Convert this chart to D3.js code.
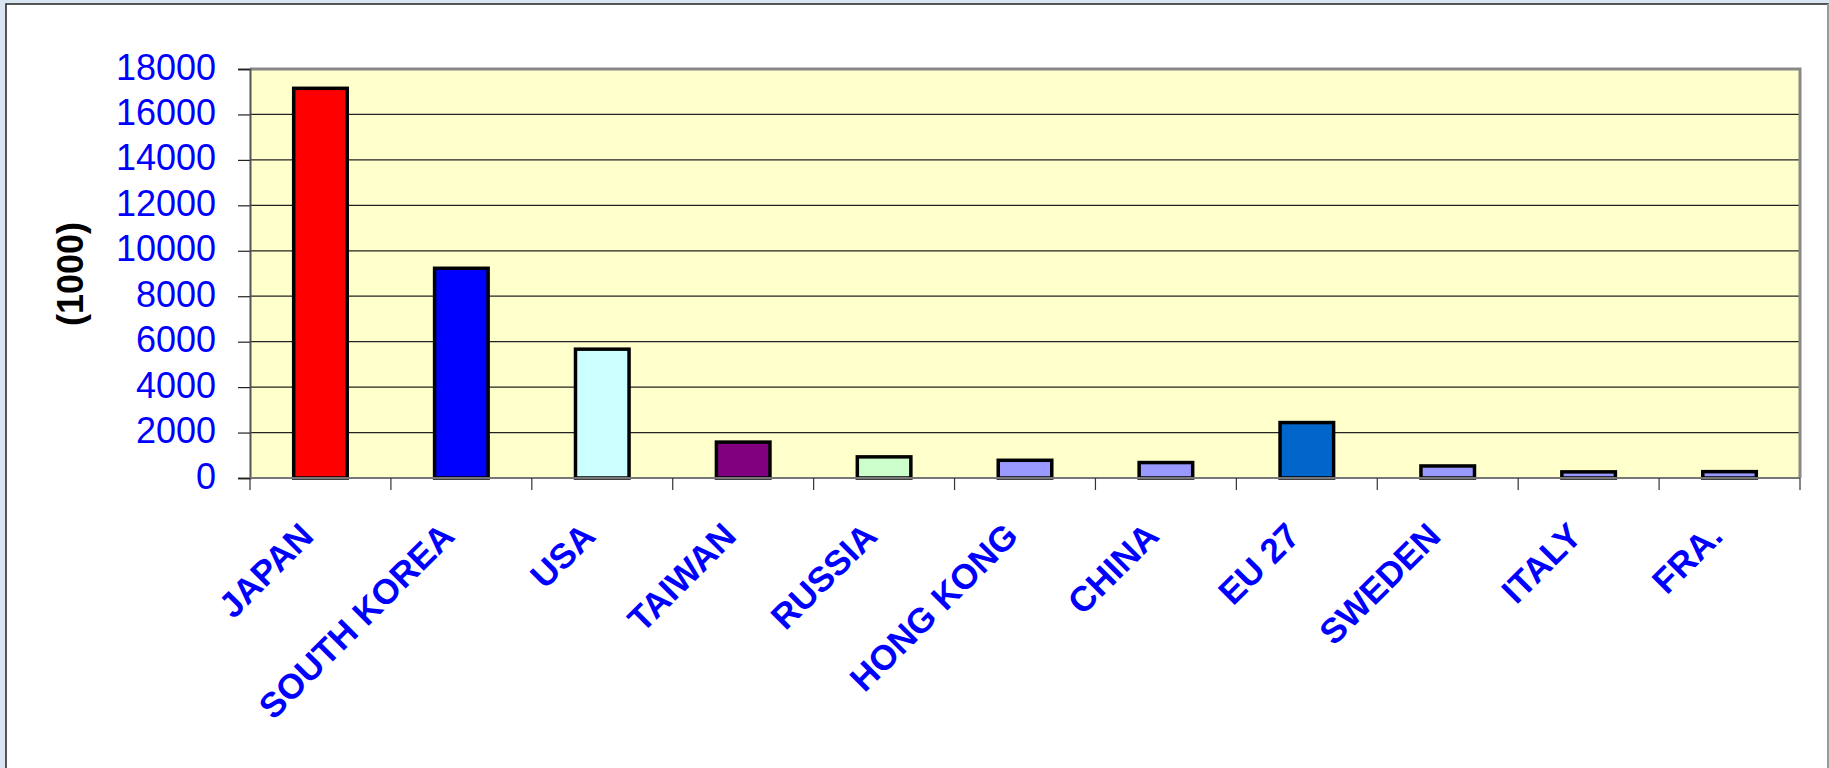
<!DOCTYPE html>
<html>
<head>
<meta charset="utf-8">
<script src="https://cdn.jsdelivr.net/npm/d3@7"></script>
<style>
  html, body { margin: 0; padding: 0; background: #d9e5f1; }
  svg { display: block; }
  text { font-family: "Liberation Sans", Arial, sans-serif; }
</style>
</head>
<body>
<div id="chart"></div>
<script>
// Chart data
var countries = ["JAPAN", "SOUTH KOREA", "USA", "TAIWAN", "RUSSIA", "HONG KONG", "CHINA", "EU 27", "SWEDEN", "ITALY", "FRA."];
var values = [17150, 9230, 5670, 1580, 930, 780, 680, 2440, 530, 270, 280];
var barColors = ["#ff0000", "#0000ff", "#ccffff", "#800080", "#ccffcc", "#9999ff", "#9999ff", "#0066cc", "#9999ff", "#9999ff", "#9999ff"];
var yTicks = [0, 2000, 4000, 6000, 8000, 10000, 12000, 14000, 16000, 18000];
var yTitle = "(1000)";

// SVG size
var svgWidth = 1829;
var svgHeight = 768;

// Plot area
var plot = { left: 250, right: 1800, top: 69, bottom: 478 };

var svg = d3.select("#chart")
  .append("svg")
  .attr("width", svgWidth)
  .attr("height", svgHeight);

// White chart frame
svg.append("rect")
  .attr("x", 6).attr("y", 4)
  .attr("width", svgWidth - 7).attr("height", svgHeight)
  .attr("fill", "#fff")
  .attr("stroke", "#222")
  .attr("stroke-width", 1.5);
svg.append("line")
  .attr("x1", svgWidth - 1).attr("x2", svgWidth - 1)
  .attr("y1", 4).attr("y2", svgHeight)
  .attr("stroke", "#999").attr("stroke-width", 2);

// Scales
var x = d3.scaleBand()
  .domain(countries)
  .range([plot.left, plot.right])
  .paddingInner(0.62)
  .paddingOuter(0.31);

var xBand = d3.scaleBand()
  .domain(countries)
  .range([plot.left, plot.right]);

var y = d3.scaleLinear()
  .domain([0, 18000])
  .range([plot.bottom, plot.top]);

// Plot background
svg.append("rect")
  .attr("x", plot.left).attr("y", plot.top)
  .attr("width", plot.right - plot.left)
  .attr("height", plot.bottom - plot.top)
  .attr("fill", "#ffffcc");

// Gridlines
svg.append("g")
  .selectAll("line")
  .data(yTicks.filter(d => d > 0))
  .enter()
  .append("line")
  .attr("x1", plot.left).attr("x2", plot.right)
  .attr("y1", d => y(d)).attr("y2", d => y(d))
  .attr("stroke", "#222")
  .attr("stroke-width", 1.2);

// Plot border (top and right, grey)
svg.append("path")
  .attr("d", `M${plot.left},${plot.top}H${plot.right}V${plot.bottom}`)
  .attr("fill", "none")
  .attr("stroke", "#888")
  .attr("stroke-width", 3);

// Bars
svg.append("g")
  .selectAll("rect")
  .data(countries)
  .enter()
  .append("rect")
  .attr("x", d => x(d))
  .attr("y", (d, i) => y(values[i]))
  .attr("width", x.bandwidth())
  .attr("height", (d, i) => y(0) - y(values[i]))
  .attr("fill", (d, i) => barColors[i])
  .attr("stroke", "#000")
  .attr("stroke-width", 3.5);

// Y axis
var yAxis = svg.append("g")
  .attr("transform", `translate(${plot.left},0)`)
  .call(d3.axisLeft(y).tickValues(yTicks).tickSize(12).tickPadding(22).tickFormat(d3.format("d")));
yAxis.select(".domain").attr("stroke", "#555").attr("stroke-width", 2);
yAxis.selectAll(".tick line").attr("stroke", "#222").attr("stroke-width", 1.2);
yAxis.selectAll("text")
  .attr("fill", "#0000ff")
  .attr("font-size", 36)
  .attr("dy", "0.28em");

// X axis (ticks at band boundaries)
var xAxis = svg.append("g");
xAxis.append("line")
  .attr("x1", plot.left).attr("x2", plot.right)
  .attr("y1", plot.bottom).attr("y2", plot.bottom)
  .attr("stroke", "#777").attr("stroke-width", 2);
xAxis.selectAll(".xtick")
  .data(countries.concat(["end"]))
  .enter()
  .append("line")
  .attr("class", "xtick")
  .attr("x1", (d, i) => i < countries.length ? xBand(d) : plot.right)
  .attr("x2", (d, i) => i < countries.length ? xBand(d) : plot.right)
  .attr("y1", plot.bottom).attr("y2", plot.bottom + 12)
  .attr("stroke", "#333").attr("stroke-width", 1.2);

// X labels, rotated
xAxis.selectAll(".xlabel")
  .data(countries)
  .enter()
  .append("text")
  .attr("class", "xlabel")
  .attr("transform", d => `translate(${xBand(d) + xBand.bandwidth() / 2 - 5},538) rotate(-45)`)
  .attr("text-anchor", "end")
  .attr("fill", "#0000ff")
  .attr("font-size", 35)
  .attr("font-weight", "bold")
  .text(d => d);

// Y axis title
svg.append("text")
  .attr("transform", "translate(83,274) rotate(-90)")
  .attr("text-anchor", "middle")
  .attr("font-size", 36)
  .attr("font-weight", "bold")
  .attr("fill", "#000")
  .text(yTitle);
</script>
</body>
</html>
